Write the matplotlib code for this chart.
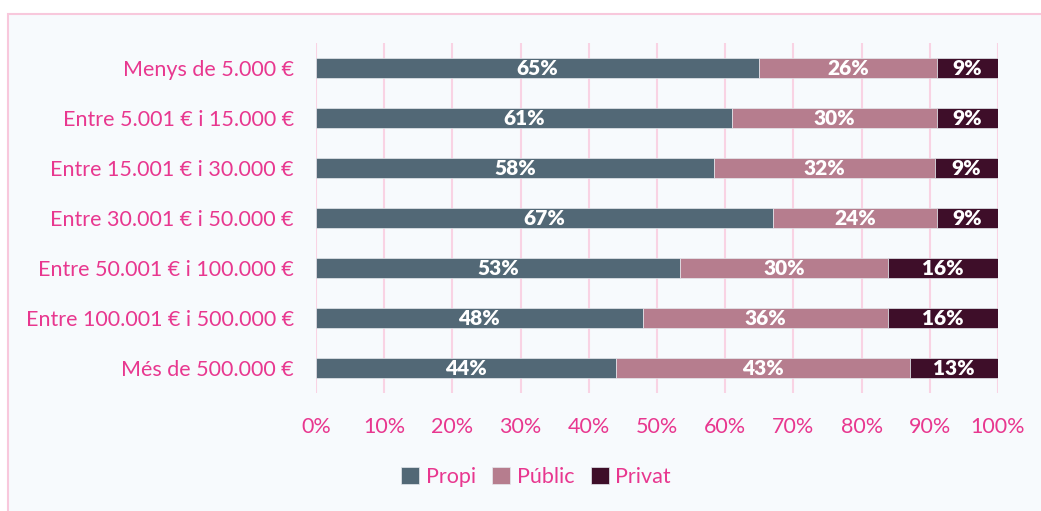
import matplotlib
matplotlib.use("Agg")
import matplotlib.pyplot as plt
from matplotlib.patches import Rectangle
import numpy as np

categories = ["Menys de 5.000 €", "Entre 5.001 € i 15.000 €", "Entre 15.001 € i 30.000 €",
              "Entre 30.001 € i 50.000 €", "Entre 50.001 € i 100.000 €",
              "Entre 100.001 € i 500.000 €", "Més de 500.000 €"]
propi = [65.0, 61.0, 58.4, 67.0, 53.4, 47.9, 44.0]
public = [26.0, 30.0, 32.4, 24.0, 30.4, 36.0, 43.1]
privat = [9.0, 9.0, 9.2, 9.0, 16.2, 16.1, 12.9]
series_names = ["Propi", "Públic", "Privat"]
colors = ["#526876", "#B67D8E", "#3E0E29"]
xticks = [0, 10, 20, 30, 40, 50, 60, 70, 80, 90, 100]

pink = "#E8378F"
bg = "#F7FAFD"
grid = "#F9D3E4"
fs = 15.5

plt.rcParams['font.family'] = ['Lato', 'DejaVu Sans']

fig = plt.figure(figsize=(10.41, 5.11), dpi=100)
fig.patch.set_facecolor("white")
frame = Rectangle((8 / 1041, -0.01), 1.0, 1 - 14 / 511 + 0.01,
                  transform=fig.transFigure, facecolor=bg,
                  edgecolor="#F8C8DC", linewidth=1.5, zorder=-10)
fig.add_artist(frame)

ax = fig.add_axes([316 / 1041, 1 - 393 / 511, (998 - 316) / 1041, (393 - 43) / 511])
ax.set_facecolor("none")
ax.set_zorder(1)

y = np.arange(len(categories))
left = np.zeros(len(categories))
for vals, name, col in zip([propi, public, privat], series_names, colors):
    vals = np.array(vals)
    ax.barh(y, vals, left=left, height=0.4, color=col, label=name, zorder=3,
            edgecolor="#E6E9EE", linewidth=0.5)
    for yi, l, v in zip(y, left, vals):
        ax.text(l + v / 2, yi, f"{round(v):d}%", ha="center", va="center",
                color="white", fontsize=fs - 0.5, fontweight="heavy", zorder=4)
    left = left + vals

ax.set_xlim(0, 100)
ax.set_ylim(len(categories) - 0.5, -0.5)
ax.set_xticks(xticks)
ax.set_xticklabels([f"{t}%" for t in xticks])
ax.set_yticks(y)
ax.set_yticklabels(categories)
ax.tick_params(axis="both", length=0, colors=pink, labelsize=fs)
ax.tick_params(axis="x", pad=17)
ax.tick_params(axis="y", pad=16)
for s in ax.spines.values():
    s.set_visible(False)
ax.grid(axis="x", color=grid, linewidth=1.5, zorder=0)
ax.set_axisbelow(True)

leg = fig.legend(loc="center", bbox_to_anchor=(536 / 1041, 1 - 477 / 511), ncol=3,
                 frameon=False, fontsize=fs, handlelength=0.85, handleheight=0.85,
                 handletextpad=0.3, columnspacing=0.75)
for t in leg.get_texts():
    t.set_color(pink)

fig.savefig("out.png", dpi=100, facecolor=fig.get_facecolor())
